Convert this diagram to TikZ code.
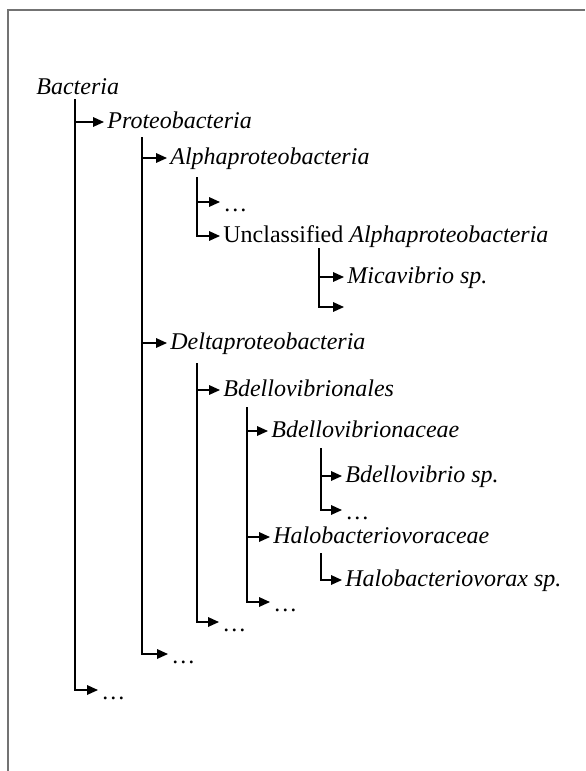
\documentclass[tikz,border=0pt]{standalone}
\usepackage{fontspec}
\setmainfont{Liberation Serif}
\usetikzlibrary{arrows.meta}

\begin{document}
\begin{tikzpicture}[
x=0.5pt,
y=-0.5pt,
every node/.style={font=\fontsize{12}{14}\selectfont},
taxon/.style={anchor=west,inner sep=1.5pt,text height=8pt,text depth=2pt},
etc/.style={taxon,text height=10pt,text depth=1pt},
arr/.style={-{Triangle[length=5.5pt,width=4.8pt]},line width=0.7pt},
frame/.style={draw=black!55,line width=0.6pt}
]
\useasboundingbox (0,0) rectangle (585,771);
\draw[frame] (8,771) |- (585,10);

% taxa
\node[taxon] (bacteria) at (33,88) {\textit{Bacteria}};
\node[taxon] (proteo) at (104,122) {\textit{Proteobacteria}};
\node[taxon] (alpha) at (167,158) {\textit{Alphaproteobacteria}};
\node[etc] (alphaother) at (220,202) {\dots};
\node[taxon] (unclass) at (220,236) {Unclassified \textit{Alphaproteobacteria}};
\node[taxon] (mica) at (344,277) {\textit{Micavibrio sp.}};
\coordinate (micaend) at (344,307);
\node[taxon] (delta) at (167,343) {\textit{Deltaproteobacteria}};
\node[taxon] (bdellales) at (220,390) {\textit{Bdellovibrionales}};
\node[taxon] (bdellaceae) at (268,431) {\textit{Bdellovibrionaceae}};
\node[taxon] (bdellsp) at (342,476) {\textit{Bdellovibrio sp.}};
\node[etc] (bdellother) at (342,510) {\dots};
\node[taxon] (halofam) at (270,537) {\textit{Halobacteriovoraceae}};
\node[taxon] (halosp) at (342,580) {\textit{Halobacteriovorax sp.}};
\node[etc] (bdellalesother) at (270,602) {\dots};
\node[etc] (deltaother) at (219,622) {\dots};
\node[etc] (proteoother) at (168,654) {\dots};
\node[etc] (bacteriaother) at (98,690) {\dots};

% trunks
\coordinate (t1) at (75,99);
\coordinate (t2) at (142,137);
\coordinate (t3) at (197,177);
\coordinate (t4) at (319,248);
\coordinate (t5) at (197,363);
\coordinate (t6) at (247,407);
\coordinate (t7) at (321,448);
\coordinate (t8) at (321,553);

\draw[arr] (t1) |- (proteo.west);
\draw[arr] (t1) |- (bacteriaother.west);
\draw[arr] (t2) |- (alpha.west);
\draw[arr] (t2) |- (delta.west);
\draw[arr] (t2) |- (proteoother.west);
\draw[arr] (t3) |- (alphaother.west);
\draw[arr] (t3) |- (unclass.west);
\draw[arr] (t4) |- (mica.west);
\draw[arr] (t4) |- (micaend);
\draw[arr] (t5) |- (bdellales.west);
\draw[arr] (t5) |- (deltaother.west);
\draw[arr] (t6) |- (bdellaceae.west);
\draw[arr] (t6) |- (halofam.west);
\draw[arr] (t6) |- (bdellalesother.west);
\draw[arr] (t7) |- (bdellsp.west);
\draw[arr] (t7) |- (bdellother.west);
\draw[arr] (t8) |- (halosp.west);
\end{tikzpicture}
\end{document}
